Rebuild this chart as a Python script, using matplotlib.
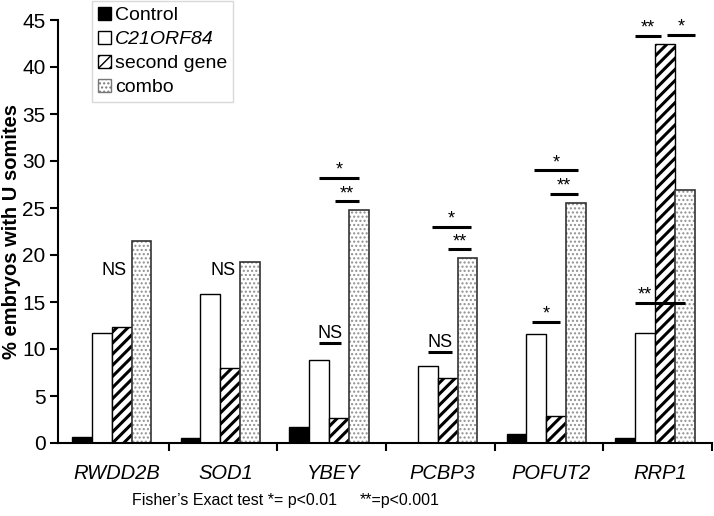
import matplotlib
matplotlib.use("Agg")
import matplotlib.pyplot as plt
from matplotlib.patches import Patch
import numpy as np

genes = ["RWDD2B", "SOD1", "YBEY", "PCBP3", "POFUT2", "RRP1"]
series = ["Control", "C21ORF84", "second gene", "combo"]
control = [0.6, 0.5, 1.7, 0.0, 1.0, 0.5]
c21orf84 = [11.7, 15.9, 8.8, 8.2, 11.6, 11.7]
second_gene = [12.3, 8.0, 2.7, 6.9, 2.9, 42.5]
combo = [21.5, 19.3, 24.8, 19.7, 25.5, 26.9]

# significance annotations: (group, from bar, to bar, y, label, label position in bars or None)
sig_lines = [
    (2, 1.0, 2.1, 10.6, "NS", None),
    (2, 1.0, 3.0, 28.2, "*", None),
    (2, 1.8, 3.0, 25.7, "**", None),
    (3, 1.0, 2.2, 9.7, "NS", None),
    (3, 1.2, 3.2, 23.0, "*", None),
    (3, 2.0, 3.2, 20.6, "**", None),
    (4, 0.8, 2.2, 12.9, "*", None),
    (4, 0.9, 3.1, 29.0, "*", None),
    (4, 1.7, 3.1, 26.5, "**", None),
    (5, 0.5, 3.0, 14.9, "**", 1.0),
    (5, 0.5, 1.8, 43.3, "**", None),
    (5, 2.1, 3.5, 43.4, "*", None),
]
ns_text = [(0, 18.4, "NS"), (1, 18.4, "NS")]

plt.rcParams['font.family'] = ['Liberation Sans', 'DejaVu Sans']

fig = plt.figure(figsize=(7.14, 5.16), dpi=100)
ax = fig.add_axes([58/714, 73/516, (712-58)/714, (443-20)/516])

x = np.arange(len(genes))
w = 0.183
offs = np.array([-0.30, -0.117, 0.066, 0.249])

def bx(g, b):
    return g + offs[0] + b * w

def set_hlw(bars, lw):
    for p in bars:
        if hasattr(p, 'set_hatch_linewidth'):
            p.set_hatch_linewidth(lw)
        else:
            p._hatch_linewidth = lw

ax.bar(x + offs[0], control, w, color='black', edgecolor='black', lw=1, label=series[0])
ax.bar(x + offs[1], c21orf84, w, color='white', edgecolor='black', lw=1, label=series[1])
b2 = ax.bar(x + offs[2], second_gene, w, color='white', edgecolor='black', lw=1, hatch='///', label=series[2])
set_hlw(b2, 2.2)
b3 = ax.bar(x + offs[3], combo, w, color='white', edgecolor='#909090', lw=0, hatch='....')
set_hlw(b3, 1.0)
ax.bar(x + offs[3], combo, w, fill=False, edgecolor='#333333', lw=1.2)

handles, labels = ax.get_legend_handles_labels()
combo_handle = Patch(facecolor='white', edgecolor='#777777', hatch='....', label=series[3])
handles.append(combo_handle)
labels.append(series[3])

for g, b0, b1, y, t, tp in sig_lines:
    x0, x1 = bx(g, b0), bx(g, b1)
    tx = (x0 + x1) / 2 if tp is None else bx(g, tp)
    ax.plot([x0, x1], [y, y], color='black', lw=2.2, solid_capstyle='butt')
    if t == "NS":
        ax.text(tx, y + 0.1, t, ha='center', va='bottom', fontsize=13)
    else:
        ax.text(tx, y - 0.1, t, ha='center', va='bottom', fontsize=13)
for g, y, t in ns_text:
    ax.text(g, y, t, ha='center', va='center', fontsize=13)

ax.set_xlim(-0.52, 5.48)
ax.set_ylim(0, 45)
ax.set_yticks(np.arange(0, 46, 5))
ax.tick_params(axis='y', labelsize=15, width=1.5, length=6, direction='out', pad=3)
ax.set_xticks(x + 0.02)
ax.set_xticklabels(genes, fontstyle='italic', fontsize=14.5)
ax.tick_params(axis='x', which='major', length=0, pad=15)
ax.set_xticks(np.arange(0.5, 6.0, 1.0), minor=True)
ax.tick_params(axis='x', which='minor', length=6, width=1.5, direction='out')
ax.spines['top'].set_visible(False)
ax.spines['right'].set_visible(False)
ax.spines['left'].set_linewidth(1.5)
ax.spines['bottom'].set_linewidth(1.5)
ax.set_ylabel('% embryos with U somites', fontsize=14.5, fontweight='bold', labelpad=1)

leg = ax.legend(handles, labels, loc='upper left', bbox_to_anchor=(0.052, 1.045),
                fontsize=14, frameon=True, fancybox=False, edgecolor='#d0d0d0',
                handlelength=0.7, handleheight=0.7, handletextpad=0.2,
                labelspacing=0.33, borderpad=0.3, borderaxespad=0.0)
leg.get_frame().set_linewidth(1.0)
for t in leg.get_texts():
    if t.get_text() == 'C21ORF84':
        t.set_fontstyle('italic')

foot_font = ['Liberation Sans Narrow', 'Liberation Sans', 'DejaVu Sans']
fig.text(132/714, 1 - 500/516, "Fisher\u2019s Exact test *= p<0.01", fontsize=11.5,
         family=foot_font, va='center')
fig.text(360/714, 1 - 500/516, "**=p<0.001", fontsize=11.5,
         family=foot_font, va='center')

fig.savefig('out.png', dpi=100)
